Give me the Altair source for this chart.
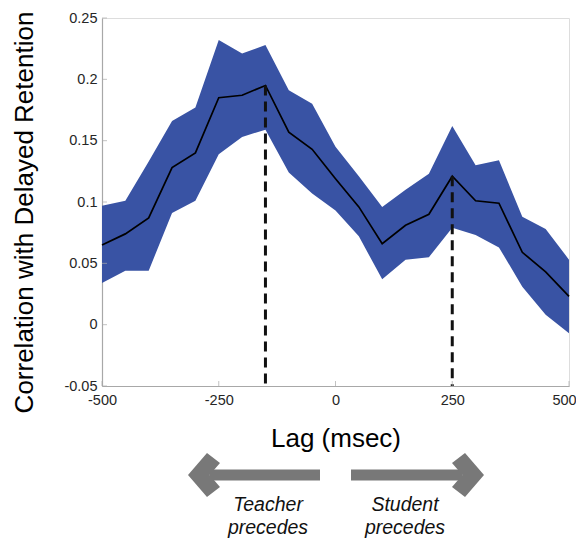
import altair as alt
import pandas as pd

lags = [-500, -450, -400, -350, -300, -250, -200, -150, -100, -50, 0,
        50, 100, 150, 200, 250, 300, 350, 400, 450, 500]
mean_r = [0.065, 0.074, 0.087, 0.128, 0.140, 0.185, 0.187, 0.195, 0.157, 0.143, 0.119,
          0.096, 0.066, 0.081, 0.090, 0.121, 0.101, 0.099, 0.059, 0.043, 0.023]
upper_r = [0.097, 0.101, 0.133, 0.166, 0.177, 0.232, 0.221, 0.228, 0.191, 0.180, 0.145,
           0.121, 0.096, 0.110, 0.123, 0.162, 0.130, 0.134, 0.088, 0.078, 0.053]
lower_r = [0.034, 0.044, 0.044, 0.091, 0.101, 0.139, 0.153, 0.159, 0.124, 0.107, 0.093,
           0.072, 0.037, 0.053, 0.055, 0.079, 0.073, 0.063, 0.031, 0.008, -0.007]
peak_lags = [-150, 250]
peak_vals = [0.195, 0.121]
x_ticks = [-500, -250, 0, 250, 500]
y_ticks = [-0.05, 0, 0.05, 0.1, 0.15, 0.2, 0.25]
direction_labels = ["Teacher\nprecedes", "Student\nprecedes"]

FONT = "Liberation Sans"
AXIS_GREY = "#a8a8a8"
BLUE = "#3953a4"
ARROW_GREY = "#787878"
W, H = 467, 368

df = pd.DataFrame({"lag": lags, "mean": mean_r, "upper": upper_r, "lower": lower_r})
peaks = pd.DataFrame({"lag": peak_lags, "val": peak_vals})
xt = pd.DataFrame({"t": x_ticks})
yt = pd.DataFrame({"t": y_ticks})

xscale = alt.Scale(domain=[-500, 500], nice=False, zero=False)
yscale = alt.Scale(domain=[-0.05, 0.25], nice=False, zero=False)

xaxis = alt.Axis(values=x_ticks, labelExpr="'' + datum.value", ticks=False, tickSize=0,
                 grid=False, domainColor=AXIS_GREY, domainWidth=1.2, labelFlush=False,
                 labelOverlap=False,
                 labelOffset=alt.condition("datum.value == 500", alt.value(-5), alt.value(0)),
                 labelFont=FONT, labelFontSize=14.5, labelColor="#262626", labelPadding=7,
                 title="Lag (msec)", titleFont=FONT, titleFontSize=26, titleFontWeight="normal",
                 titleColor="black", titlePadding=19)
yaxis = alt.Axis(values=y_ticks, labelExpr="'' + datum.value", ticks=False, tickSize=0,
                 grid=False, domainColor=AXIS_GREY, domainWidth=1.2, labelFlush=False,
                 labelOverlap=False,
                 labelFont=FONT, labelFontSize=14.5, labelColor="#262626", labelPadding=5,
                 title="Correlation with Delayed Retention", titleFont=FONT, titleFontSize=26,
                 titleFontWeight="normal", titleColor="black", titlePadding=26, titleY=194)

band = alt.Chart(df).mark_area(color=BLUE, opacity=1, interpolate="linear").encode(
    x=alt.X("lag:Q", scale=xscale, axis=xaxis),
    y=alt.Y("lower:Q", scale=yscale, axis=yaxis),
    y2="upper:Q",
)
line = alt.Chart(df).mark_line(color="black", strokeWidth=1.7).encode(
    x=alt.X("lag:Q", scale=xscale),
    y=alt.Y("mean:Q", scale=yscale),
)
dashes = alt.Chart(peaks).mark_rule(color="#111111", strokeWidth=3, strokeDash=[10, 6]).encode(
    x=alt.X("lag:Q", scale=xscale),
    y=alt.Y("val:Q", scale=yscale),
    y2=alt.datum(-0.05),
)
yticks = alt.Chart(yt).mark_tick(orient="horizontal", color=AXIS_GREY, size=5, thickness=1).encode(
    y=alt.Y("t:Q", scale=yscale),
    x=alt.value(2.5),
)
xticks = alt.Chart(xt).mark_tick(orient="vertical", color=AXIS_GREY, size=5, thickness=1).encode(
    x=alt.X("t:Q", scale=xscale),
    y=alt.value(H - 2.5),
)

arrows = pd.DataFrame({"dir": ["left", "right"]})
shaft_l = alt.Chart(arrows).transform_filter("datum.dir == 'left'").mark_rule(
    color=ARROW_GREY, strokeWidth=11, strokeCap="butt").encode(
    x=alt.value(108), x2=alt.value(218), y=alt.value(457))
shaft_r = alt.Chart(arrows).transform_filter("datum.dir == 'right'").mark_rule(
    color=ARROW_GREY, strokeWidth=11, strokeCap="butt").encode(
    x=alt.value(249), x2=alt.value(360), y=alt.value(457))
head_l = alt.Chart(arrows).transform_filter("datum.dir == 'left'").mark_point(
    shape="M -0.727 0 L 0.136 -1 L 0.727 -0.545 L 0.255 0 L 0.727 0.545 L 0.136 1 Z",
    filled=True, size=1936, color=ARROW_GREY, opacity=1, strokeWidth=0).encode(
    x=alt.value(102), y=alt.value(457))
head_r = alt.Chart(arrows).transform_filter("datum.dir == 'right'").mark_point(
    shape="M 0.727 0 L -0.136 -1 L -0.727 -0.545 L -0.255 0 L -0.727 0.545 L -0.136 1 Z",
    filled=True, size=1936, color=ARROW_GREY, opacity=1, strokeWidth=0).encode(
    x=alt.value(366), y=alt.value(457))

lbl = pd.DataFrame({"label": direction_labels, "side": ["left", "right"]})
text_l = alt.Chart(lbl).transform_filter("datum.side == 'left'").mark_text(
    font=FONT, fontSize=19.5, fontStyle="italic", color="#111111", align="center",
    baseline="alphabetic", lineBreak="\n", lineHeight=22.5).encode(
    text="label:N", x=alt.value(166), y=alt.value(493))
text_r = alt.Chart(lbl).transform_filter("datum.side == 'right'").mark_text(
    font=FONT, fontSize=19.5, fontStyle="italic", color="#111111", align="center",
    baseline="alphabetic", lineBreak="\n", lineHeight=22.5).encode(
    text="label:N", x=alt.value(303), y=alt.value(493))

chart = alt.layer(band, line, dashes, yticks, xticks, shaft_l, shaft_r, head_l, head_r,
                  text_l, text_r).properties(
    width=W, height=H,
    autosize=alt.AutoSizeParams(type="none"),
    padding={"left": 94, "top": 10, "right": 7, "bottom": 152},
).configure_view(stroke=None).configure(background="white")

chart.save("out.html", embed_options={"renderer": "svg", "actions": False})
